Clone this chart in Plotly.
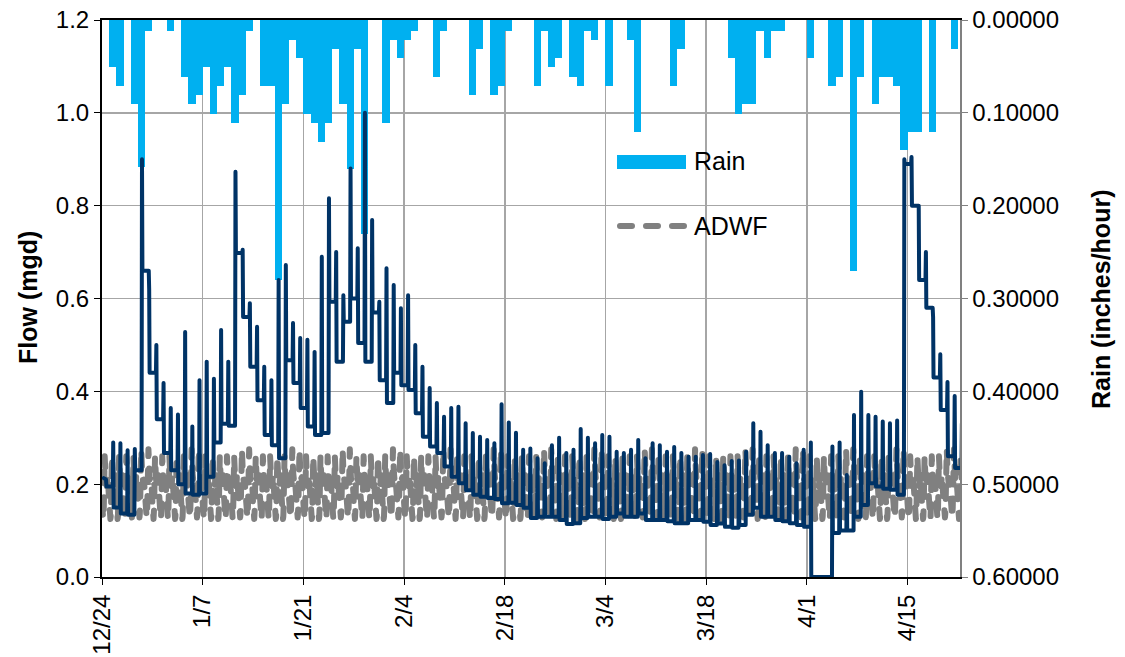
import plotly.graph_objects as go
import pandas as pd

# ---------------- data ----------------
start = pd.Timestamp("2012-12-24")
tick_days = [0, 14, 28, 42, 56, 70, 84, 98, 112]
tick_labels = ["12/24", "1/7", "1/21", "2/4", "2/18", "3/4", "3/18", "4/1", "4/15"]

# daily rain (inches/hour), day 0 = 12/24
rain = [0, 0.051, 0.071, 0, 0.091, 0.158, 0.0115, 0, 0, 0.0115,
        0, 0.061, 0.091, 0.081, 0.051, 0.101, 0.071, 0.051, 0.111, 0.081,
        0.0115, 0, 0.071, 0.071, 0.28, 0.091, 0.0215, 0.041, 0.101, 0.111,
        0.131, 0.111, 0.031, 0.091, 0.16, 0.031, 0.23, 0, 0, 0.111,
        0.0215, 0.041, 0.0215, 0.0115, 0, 0, 0.061, 0.0115, 0, 0,
        0, 0.081, 0.031, 0, 0.081, 0.071, 0.0115, 0, 0, 0,
        0.071, 0.0115, 0.051, 0.041, 0, 0.061, 0.071, 0.0115, 0.0215, 0,
        0.071, 0, 0, 0.0215, 0.121, 0, 0, 0, 0, 0.071,
        0.031, 0, 0, 0, 0, 0, 0, 0.041, 0.101, 0.091,
        0.091, 0.0115, 0.041, 0.0115, 0.0115, 0, 0, 0, 0.041, 0,
        0, 0.071, 0.061, 0, 0.27, 0.061, 0, 0.091, 0.061, 0.061,
        0.071, 0.14, 0.121, 0.121, 0, 0.121, 0, 0, 0.031, 0]

# daily flow (mgd): peak of the daily spike and level after it
flow_hi = [0.21, 0.29, 0.288, 0.273, 0.276, 0.90, 0.62, 0.50, 0.418, 0.364,
           0.35, 0.528, 0.324, 0.424, 0.464, 0.427, 0.532, 0.464, 0.873, 0.705,
           0.59, 0.539, 0.453, 0.424, 0.64, 0.672, 0.547, 0.515, 0.511, 0.485,
           0.69, 0.816, 0.70, 0.607, 0.88, 0.708, 1.0, 0.769, 0.593, 0.665,
           0.629, 0.579, 0.607, 0.50, 0.453, 0.407, 0.375, 0.345, 0.364, 0.367,
           0.331, 0.31, 0.302, 0.295, 0.288, 0.372, 0.333, 0.311, 0.274, 0.277,
           0.256, 0.245, 0.284, 0.30, 0.267, 0.274, 0.319, 0.30, 0.288, 0.306,
           0.302, 0.27, 0.267, 0.274, 0.295, 0.256, 0.288, 0.284, 0.27, 0.28,
           0.267, 0.259, 0.259, 0.263, 0.265, 0.248, 0.241, 0.25, 0.251, 0.27,
           0.331, 0.313, 0.284, 0.267, 0.267, 0.259, 0.245, 0.274, 0.29, 0.0,
           0.0, 0.281, 0.29, 0.22, 0.349, 0.399, 0.349, 0.345, 0.335, 0.331,
           0.337, 0.90, 0.905, 0.80, 0.70, 0.56, 0.48, 0.42, 0.39, 0.33]
flow_lo = [0.195, 0.15, 0.137, 0.134, 0.23, 0.66, 0.44, 0.34, 0.267, 0.23,
           0.20, 0.18, 0.177, 0.18, 0.216, 0.29, 0.33, 0.326, 0.698, 0.56,
           0.453, 0.381, 0.306, 0.284, 0.256, 0.467, 0.418, 0.364, 0.324, 0.306,
           0.31, 0.593, 0.464, 0.55, 0.60, 0.504, 0.464, 0.57, 0.424, 0.375,
           0.44, 0.413, 0.403, 0.353, 0.302, 0.281, 0.267, 0.238, 0.216, 0.202,
           0.187, 0.177, 0.173, 0.17, 0.168, 0.159, 0.16, 0.155, 0.149, 0.127,
           0.13, 0.13, 0.13, 0.123, 0.114, 0.116, 0.127, 0.13, 0.13, 0.125,
           0.13, 0.137, 0.13, 0.13, 0.137, 0.123, 0.123, 0.123, 0.12, 0.116,
           0.116, 0.123, 0.123, 0.119, 0.112, 0.115, 0.108, 0.106, 0.112, 0.134,
           0.149, 0.13, 0.13, 0.123, 0.12, 0.116, 0.112, 0.108, 0.0, 0.0,
           0.0, 0.095, 0.10, 0.10, 0.13, 0.155, 0.202, 0.195, 0.19, 0.188,
           0.177, 0.89, 0.80, 0.64, 0.58, 0.43, 0.36, 0.26, 0.235, 0.23]

# average dry weather flow: hourly diurnal profiles
adwf_weekday = [0.16, 0.15, 0.14, 0.13, 0.125, 0.13, 0.15, 0.19, 0.24, 0.26, 0.25, 0.23,
                0.215, 0.205, 0.20, 0.195, 0.195, 0.20, 0.215, 0.22, 0.21, 0.195, 0.18, 0.17]
adwf_weekend = [0.17, 0.16, 0.15, 0.14, 0.13, 0.128, 0.135, 0.15, 0.18, 0.22, 0.26, 0.275,
                0.26, 0.24, 0.225, 0.21, 0.205, 0.205, 0.21, 0.215, 0.21, 0.20, 0.19, 0.18]

# ---------------- build traces ----------------
n_days = len(rain)
rain_x = [start + pd.Timedelta(days=d + 0.5) for d in range(n_days)]

fx, fy = [0.25], [0.213]
for d in range(len(flow_hi)):
    if d > 0:
        fx.append(d + 0.50)
        fy.append(flow_lo[d - 1])
    fx += [d + 0.56, d + 0.62]
    fy += [flow_hi[d], flow_lo[d]]
flow_x = [start + pd.Timedelta(days=v) for v in fx]

ax, ay = [], []
for d in range(n_days):
    day = start + pd.Timedelta(days=d)
    prof = adwf_weekend if day.dayofweek >= 5 else adwf_weekday
    step = 24 / len(prof)
    for i, v in enumerate(prof):
        ax.append(day + pd.Timedelta(hours=step * i))
        ay.append(v)

fig = go.Figure()
fig.add_trace(go.Bar(x=rain_x, y=rain, name="Rain", yaxis="y",
                     marker=dict(color="#00B0F0", line=dict(width=0)),
                     width=86400000, showlegend=False))
fig.add_trace(go.Scatter(x=ax, y=ay, name="ADWF", yaxis="y2", mode="lines",
                         line=dict(color="#808080", width=6, dash="12px,14px"),
                         showlegend=False))
fig.add_trace(go.Scatter(x=flow_x, y=fy, name="Flow", yaxis="y2", mode="lines",
                         line=dict(color="#003366", width=4), showlegend=False))

FONT = "Liberation Sans, Arial, sans-serif"
L, R, T, B = 102, 165, 20, 80
W, H = 1125, 657
pw, ph = W - L - R, H - T - B


def px(x):
    return (x - L) / pw


def py(y):
    return (H - B - y) / ph


fig.update_layout(
    width=W, height=H, margin=dict(l=L, r=R, t=T, b=B, autoexpand=False),
    paper_bgcolor="white", plot_bgcolor="white",
    font=dict(family=FONT, size=24, color="black"),
    bargap=0,
    xaxis=dict(type="date", automargin=False,
               range=[start, start + pd.Timedelta(days=119.3)],
               tickvals=[start + pd.Timedelta(days=d) for d in tick_days],
               ticktext=tick_labels, tickangle=-90,
               showgrid=True, gridcolor="#A6A6A6", gridwidth=1.5,
               showline=True, linecolor="black", linewidth=2, mirror=True,
               ticks="outside", ticklen=6, tickcolor="black",
               tickfont=dict(size=24)),
    yaxis=dict(side="right", range=[0.6, 0], dtick=0.1, tick0=0, automargin=False,
               tickformat=".5f", showgrid=True, gridcolor="#A6A6A6", gridwidth=1.5,
               showline=True, linecolor="#808080", linewidth=1.5,
               ticks="outside", ticklen=6, tickcolor="#808080",
               zeroline=False, tickfont=dict(size=24)),
    yaxis2=dict(side="left", overlaying="y", range=[0, 1.2], dtick=0.2, tick0=0,
                automargin=False,
                tickformat=".1f", showgrid=False, zeroline=False,
                showline=True, linecolor="black", linewidth=2,
                ticks="outside", ticklen=6, tickcolor="black",
                tickfont=dict(size=24)),
    shapes=[
        dict(type="rect", xref="paper", yref="paper",
             x0=px(617), x1=px(686), y0=py(169), y1=py(155),
             fillcolor="#00B0F0", line=dict(width=0)),
        dict(type="line", xref="paper", yref="paper",
             x0=px(620), x1=px(685), y0=py(226), y1=py(226),
             line=dict(color="#808080", width=6, dash="12px,14px")),
    ],
    annotations=[
        dict(text="Rain", xref="paper", yref="paper", x=px(692), y=py(161),
             xanchor="left", yanchor="middle", showarrow=False,
             font=dict(size=25, color="black")),
        dict(text="ADWF", xref="paper", yref="paper", x=px(692), y=py(226),
             xanchor="left", yanchor="middle", showarrow=False,
             font=dict(size=25, color="black")),
        dict(text="<b>Flow (mgd)</b>", xref="paper", yref="paper",
             x=px(28), y=py(298), textangle=-90, showarrow=False,
             xanchor="center", yanchor="middle",
             font=dict(size=25, color="black")),
        dict(text="<b>Rain (inches/hour)</b>", xref="paper", yref="paper",
             x=px(1101), y=py(300), textangle=-90, showarrow=False,
             xanchor="center", yanchor="middle",
             font=dict(size=25, color="black")),
    ],
)

post = """
document.body.style.margin = '0';
document.body.style.padding = '0';
document.body.style.overflow = 'hidden';
var gd = document.getElementById('{plot_id}');
gd.querySelectorAll('.scatterlayer path.js-line, .shapelayer path').forEach(function(p){
  p.style.strokeLinecap = 'round';
  p.style.strokeLinejoin = 'round';
});
"""

fig.write_html("out.html", post_script=post,
               config={"displayModeBar": False, "staticPlot": True})
